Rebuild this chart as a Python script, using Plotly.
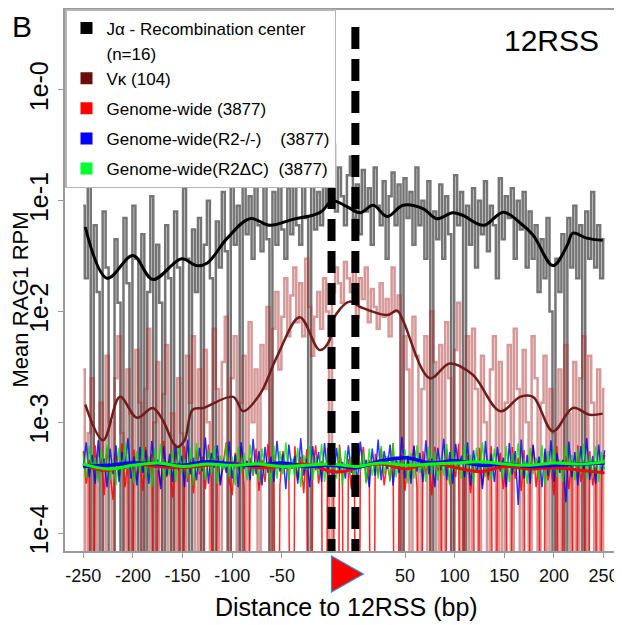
import plotly.graph_objects as go

# ---------------- data ----------------
RSS_GAP = 24          # width of the 12RSS block on the aligned axis (bp units of the plot)
ZERO_FLOOR = 1e-9     # zero coverage drawn down to the floor of the log axis

# aligned window positions for the raw per-bp traces (sampled every 3 bp)
positions = list(range(-250, 276, 3))

# J-alpha recombination-center raw mean RPM (x1e-3), 0 = no reads
ja_raw = [
    90, 20, 160, 0, 60, 15, 0, 80, 25, 0,
    0, 45, 12, 0, 70, 18, 0, 90, 30, 0,
    50, 0, 15, 110, 0, 40, 12, 0, 60, 20,
    0, 80, 25, 0, 130, 30, 0, 55, 15, 70,
    0, 40, 100, 20, 0, 65, 25, 120, 35, 0,
    150, 40, 90, 0, 180, 50, 110, 30, 200, 60,
    35, 140, 45, 0, 120, 40, 170, 55, 30, 130,
    50, 210, 60, 40, 150, 70, 0, 180, 55, 120,
    60, 220, 90, 150, 320, 80, 200, 110, 60, 170,
    250, 70, 140, 50, 190, 80, 130, 40, 200, 90,
    60, 150, 30, 110, 180, 60, 140, 0, 160, 70,
    120, 40, 200, 60, 100, 30, 150, 0, 80, 45,
    140, 30, 110, 50, 0, 170, 60, 120, 0, 90,
    40, 130, 25, 100, 50, 150, 35, 90, 60, 20,
    160, 45, 110, 70, 130, 30, 100, 55, 120, 25,
    80, 30, 60, 15, 45, 20, 70, 10, 0, 30,
    15, 50, 0, 70, 25, 90, 20, 60, 0, 80,
    30, 120, 25, 60, 20, 45,
]

# V-kappa raw mean RPM (x1e-4)
vk_raw = [
    30, 0, 8, 25, 0, 5, 15, 0, 40, 10,
    0, 25, 60, 8, 0, 30, 12, 0, 45, 15,
    0, 20, 70, 0, 10, 35, 0, 18, 50, 0,
    12, 0, 25, 8, 0, 40, 15, 60, 0, 30,
    0, 45, 10, 0, 70, 20, 0, 35, 90, 0,
    25, 60, 0, 15, 40, 0, 80, 10, 30, 0,
    50, 20, 110, 0, 70, 150, 30, 90, 200, 60,
    140, 250, 80, 180, 60, 300, 110, 40, 90, 150,
    70, 200, 100, 0, 150, 250, 180, 120, 280, 200,
    150, 300, 90, 200, 130, 250, 80, 160, 110, 70,
    180, 90, 130, 60, 250, 100, 140, 0, 60, 30,
    0, 90, 40, 0, 20, 60, 0, 100, 35, 0,
    50, 0, 80, 25, 0, 45, 120, 0, 30, 60,
    0, 70, 20, 0, 40, 10, 0, 30, 60, 0,
    35, 0, 15, 50, 0, 70, 20, 0, 45, 10,
    0, 60, 25, 0, 15, 40, 0, 20, 8, 0,
    30, 0, 50, 12, 0, 35, 0, 25, 60, 0,
    40, 15, 0, 30, 0, 20,
]

# genome-wide raw traces (x1e-4)
gw_raw = [
    5.5, 2.8, 4.6, 0, 6.2, 3.1, 4.8, 2.2, 5.9, 3.5,
    2.0, 5.1, 3.3, 6.5, 2.6, 4.4, 0, 5.7, 3.0, 4.9,
    2.4, 6.0, 3.6, 5.2, 0, 4.1, 2.7, 6.8, 3.2, 4.5,
    2.1, 5.4, 3.9, 0, 6.1, 2.9, 4.7, 2.3, 5.6, 3.4,
    4.9, 2.5, 6.3, 3.1, 0, 5.0, 2.8, 4.3, 6.6, 3.0,
    2.2, 5.3, 3.7, 6.0, 2.6, 0, 4.8, 3.3, 5.8, 2.4,
    4.6, 2.9, 6.4, 3.5, 5.1, 0, 2.7, 5.5, 3.8, 4.4,
    0, 6.1, 3.0, 4.9, 2.3, 5.7, 0, 3.6, 6.2, 2.8,
    4.5, 0, 5.9, 2.6, 4.0, 0, 6.3, 3.2, 0, 4.7,
    2.5, 5.4, 0, 3.7, 6.0, 2.9, 4.6, 0, 5.2, 3.3,
    5.8, 2.7, 4.4, 3.0, 6.5, 0, 3.9, 5.1, 2.4, 4.8,
    3.1, 6.2, 2.6, 0, 5.5, 3.4, 4.7, 2.2, 6.0, 3.6,
    4.3, 0, 5.7, 2.8, 4.9, 3.2, 6.4, 0, 3.5, 5.0,
    2.3, 4.6, 0, 5.9, 2.7, 4.1, 3.0, 6.1, 0, 3.8,
    5.3, 2.5, 4.4, 0, 6.0, 3.1, 4.8, 2.4, 5.6, 0,
    3.6, 6.3, 2.6, 4.5, 0, 5.4, 3.0, 4.2, 2.2, 6.1,
    0, 3.7, 5.0, 2.5, 4.6, 0, 6.2, 2.9, 4.3, 0,
    5.5, 2.7, 4.0, 0, 3.3, 5.1,
]
gw_r2ko_raw = [
    4.0, 6.6, 3.2, 5.1, 2.8, 6.9, 3.6, 4.7, 2.6, 5.8,
    3.4, 6.2, 2.9, 5.4, 3.8, 7.2, 3.1, 4.9, 2.7, 6.0,
    3.5, 5.6, 2.8, 6.8, 3.9, 4.6, 2.5, 6.1, 3.3, 5.2,
    2.9, 6.4, 3.7, 5.0, 2.6, 7.0, 3.4, 4.8, 3.0, 5.9,
    3.6, 7.3, 2.8, 5.3, 3.9, 6.2, 2.7, 4.6, 3.5, 6.7,
    3.1, 5.1, 2.6, 6.6, 3.8, 4.5, 3.0, 7.1, 3.4, 5.5,
    2.7, 6.0, 3.5, 4.9, 2.9, 6.8, 3.6, 5.2, 2.5, 6.3,
    3.8, 5.0, 2.8, 7.2, 3.3, 4.7, 2.6, 6.1, 3.7, 5.4,
    2.9, 6.5, 3.4, 4.8, 2.7, 5.9, 3.6, 4.4, 3.1, 6.2,
    3.5, 5.2, 2.8, 6.7, 3.9, 4.6, 2.6, 5.8, 3.3, 7.0,
    3.0, 5.5, 3.8, 6.3, 2.7, 4.9, 3.5, 7.4, 3.1, 5.0,
    2.8, 6.1, 3.6, 5.3, 2.9, 6.9, 3.4, 4.7, 2.6, 5.9,
    3.7, 7.1, 3.0, 5.4, 2.8, 6.4, 3.9, 5.0, 3.2, 6.6,
    2.7, 5.6, 3.5, 4.6, 2.5, 6.8, 3.3, 5.2, 2.9, 6.0,
    3.6, 4.8, 2.6, 6.5, 3.4, 5.5, 1.8, 7.0, 3.1, 5.1,
    2.8, 6.2, 3.7, 4.9, 2.6, 5.8, 3.3, 6.9, 2.9, 5.3,
    3.5, 4.6, 1.9, 6.7, 3.2, 5.4, 2.7, 6.1, 3.6, 7.2,
    3.0, 5.0, 2.8, 6.3, 3.4, 5.6,
]
gw_r2dc_raw = [
    5.2, 3.1, 6.1, 3.6, 4.8, 2.9, 5.7, 3.4, 6.3, 3.0,
    4.6, 2.7, 5.9, 3.3, 6.6, 3.8, 4.4, 2.8, 5.5, 3.5,
    6.0, 3.2, 4.9, 2.6, 5.8, 3.7, 6.4, 3.0, 4.5, 3.3,
    5.6, 2.9, 6.2, 3.5, 4.7, 3.1, 5.9, 2.7, 6.5, 3.6,
    4.3, 3.0, 5.7, 3.4, 6.1, 2.8, 5.0, 3.7, 6.4, 3.2,
    4.9, 2.7, 6.0, 3.5, 5.3, 3.0, 6.3, 3.3, 4.6, 2.9,
    5.8, 3.6, 4.4, 2.8, 6.2, 3.1, 5.5, 3.4, 6.6, 3.0,
    4.7, 3.2, 5.9, 2.6, 5.1, 3.7, 6.1, 3.0, 4.8, 3.3,
    6.4, 2.9, 5.2, 3.5, 4.5, 3.1, 6.0, 2.7, 5.6, 3.4,
    4.9, 3.0, 6.3, 3.6, 5.4, 2.8, 5.8, 3.3, 4.6, 3.1,
    6.1, 3.4, 5.0, 2.9, 6.5, 3.2, 4.7, 3.6, 5.7, 2.8,
    5.3, 3.1, 6.2, 3.5, 4.4, 2.9, 6.0, 3.4, 5.5, 3.0,
    4.8, 3.3, 6.4, 2.7, 5.6, 3.6, 4.5, 3.1, 6.3, 3.4,
    5.1, 2.8, 5.9, 3.5, 6.6, 3.2, 4.6, 3.0, 5.8, 3.7,
    4.4, 3.1, 6.1, 2.9, 5.3, 3.6, 6.5, 3.3, 4.7, 2.8,
    5.9, 3.4, 4.8, 3.0, 6.2, 2.7, 5.5, 3.5, 6.0, 3.2,
    4.6, 2.9, 6.3, 3.6, 5.1, 3.0, 5.8, 3.4, 6.4, 3.1,
    5.0, 3.3, 6.1, 2.9, 5.4, 3.7,
]

# smoothed profiles
ja_smooth_pos = [-248, -226, -200, -180, -151, -136, -125, -105, -82, -62, -39, -19, -10, 1, 15, 29,
                 42, 56, 72, 92, 106, 122, 132, 153, 173, 190, 203, 223, 237, 243, 257, 273]
ja_smooth = [0.058, 0.020, 0.032, 0.0195, 0.030, 0.026, 0.0275, 0.046, 0.069, 0.060, 0.068, 0.074,
             0.080, 0.100, 0.089, 0.078, 0.091, 0.072, 0.091, 0.085, 0.069, 0.078, 0.074, 0.060,
             0.079, 0.063, 0.049, 0.026, 0.039, 0.051, 0.046, 0.044]

vk_smooth_pos = [-248, -230, -213, -196, -180, -170, -156, -148, -140, -129, -99, -89, -72, -55, -32,
                 -12, -2, 1, 18, 29, 56, 66, 72, 99, 119, 142, 170, 190, 203, 223, 243, 260, 273]
vk_smooth = [0.00145, 0.00069, 0.0017, 0.0011, 0.00135, 0.00105, 0.0006, 0.00069, 0.0013, 0.00135,
             0.0017, 0.00126, 0.0018, 0.0039, 0.0089, 0.0045, 0.0055, 0.0083, 0.0123, 0.011,
             0.0093, 0.0102, 0.0083, 0.0025, 0.0034, 0.0027, 0.00126, 0.0017, 0.0017, 0.00083,
             0.00135, 0.00117, 0.0012]

gw_smooth_pos = [-250, -225, -200, -175, -150, -125, -100, -75, -50, -25, 0, 12, 25, 50, 75, 100,
                 125, 150, 175, 200, 225, 250, 275]
gw_smooth = [4.1, 3.7, 4.2, 4.0, 3.9, 4.1, 4.3, 3.9, 4.0, 4.2, 3.6, 3.6, 3.9, 4.2, 3.8, 4.3, 3.9,
             3.6, 4.0, 3.8, 3.9, 3.7, 3.5]
gw_r2ko_smooth = [4.0, 4.1, 4.3, 4.2, 4.1, 4.4, 4.2, 4.1, 4.3, 4.0, 4.1, 4.0, 3.9, 4.5, 4.8, 4.3,
                  4.5, 4.1, 4.2, 4.0, 4.1, 4.2, 4.3]
gw_r2dc_smooth = [4.2, 3.8, 4.1, 4.3, 4.0, 4.2, 4.1, 4.2, 4.0, 4.1, 4.2, 4.1, 4.0, 4.3, 4.1, 4.2,
                  4.3, 4.4, 4.2, 4.1, 4.3, 4.2, 4.4]

upstream_ticks = [-250, -200, -150, -100, -50]
downstream_ticks = [50, 100, 150, 200, 250]
y_tick_vals = [1, 0.1, 0.01, 0.001, 0.0001]
y_tick_text = ["1e-0", "1e-1", "1e-2", "1e-3", "1e-4"]

# legend rows: (label, swatch colour or None, legend block)
legend_rows = [
    ("J\u03b1 - Recombination center", "#000000", 0),
    ("(n=16)", None, 0),
    ("V\u03ba\u00a0(104)", "#6b0d0d", 0),
    ("Genome-wide\u00a0(3877)", "#ff0000", 1),
    ("Genome-wide(R2-/-)\u00a0\u00a0\u00a0\u00a0(3877)", "#0000ff", 2),
    ("Genome-wide(R2\u0394C)\u00a0\u00a0(3877)", "#00ff33", 3),
]


# ---------------- figure ----------------
def scaled(vals, unit):
    return [v * unit if v > 0 else ZERO_FLOOR for v in vals]


FONT = "Arial, Liberation Sans, sans-serif"
PAGE_OFF = 8                      # the page body margin shifts the figure by 8 px
W, H = 622 - PAGE_OFF, 625 - PAGE_OFF
ML, MR, MT, MB = 57, 2, 2, 74     # plot area: screen x 65..620, y 10..551
PW, PH = W - ML - MR, H - MT - MB


def px(xs):   # screen x -> paper
    return (xs - PAGE_OFF - ML) / PW


def py(ys):   # screen y -> paper
    return (H - MB - (ys - PAGE_OFF)) / PH


fig = go.Figure()

raw_specs = [
    (scaled(ja_raw, 1e-3), "rgba(25,25,25,0.6)", 2.5, "hvh"),
    (scaled(vk_raw, 1e-4), "rgba(175,50,50,0.5)", 2.5, "hvh"),
    (scaled(gw_raw, 1e-4), "rgba(255,0,0,0.85)", 1.5, "linear"),
    (scaled(gw_r2ko_raw, 1e-4), "rgba(0,0,255,0.8)", 1.5, "linear"),
    (scaled(gw_r2dc_raw, 1e-4), "rgba(0,225,0,0.8)", 1.5, "linear"),
]
for ys, col, w, shp in raw_specs:
    fig.add_trace(go.Scatter(x=positions, y=ys, mode="lines", line=dict(color=col, width=w, shape=shp),
                             showlegend=False, hoverinfo="skip"))

smooth_specs = [
    (ja_smooth_pos, ja_smooth, "#000000", 3),
    (vk_smooth_pos, vk_smooth, "#6e1c1c", 2.5),
    (gw_smooth_pos, [v * 1e-4 for v in gw_smooth], "#ff0000", 3),
    (gw_smooth_pos, [v * 1e-4 for v in gw_r2ko_smooth], "#0000ff", 3.5),
    (gw_smooth_pos, [v * 1e-4 for v in gw_r2dc_smooth], "#00ff00", 3),
]
for xs, ys, col, w in smooth_specs:
    fig.add_trace(go.Scatter(x=xs, y=ys, mode="lines",
                             line=dict(color=col, width=w, shape="spline", smoothing=1.0),
                             showlegend=False, hoverinfo="skip"))

for lab, col, grp in legend_rows:
    fig.add_trace(go.Scatter(x=[None], y=[None], mode="markers", name=lab,
                             legendgroup=f"g{grp}",
                             marker=dict(symbol="square", size=15,
                                         color=col if col else "rgba(0,0,0,0)",
                                         line=dict(width=0))))

tickvals = upstream_ticks + [t + RSS_GAP for t in downstream_ticks]
ticktext = [str(t) for t in upstream_ticks] + [str(t) for t in downstream_ticks]

shapes = []
# RSS borders (thick dashed lines)
for xv in [0, RSS_GAP]:
    shapes.append(dict(type="line", xref="x", yref="paper", x0=xv, x1=xv, y0=py(27), y1=0,
                       line=dict(color="black", width=8, dash="22px,10px")))
# red triangle marking the RSS orientation
shapes.append(dict(type="path", xref="x", yref="paper",
                   path=f"M 0 {py(556)} L 0 {py(592)} L {RSS_GAP + 8} {py(574)} Z",
                   fillcolor="#ff0000", line=dict(color="#2b8fd6", width=1.2)))

ann_common = dict(xref="paper", yref="paper", showarrow=False, xanchor="center", yanchor="middle")
annotations = [
    dict(text="B", x=px(22), y=py(27), font=dict(size=30, color="black", family=FONT), **ann_common),
    dict(text="12RSS", x=px(551), y=py(41), font=dict(size=30, color="black", family=FONT),
         **ann_common),
    dict(text="Mean RAG1 RPM", x=px(19.5), y=py(300), textangle=-90,
         font=dict(size=22, color="black", family=FONT), **ann_common),
    dict(text="Distance to 12RSS (bp)", x=px(346), y=py(607),
         font=dict(size=25, color="black", family=FONT), **ann_common),
]

fig.update_layout(
    width=W, height=H,
    margin=dict(l=ML, r=MR, t=MT, b=MB, autoexpand=False),
    paper_bgcolor="white", plot_bgcolor="white",
    font=dict(family=FONT, color="black"),
    shapes=shapes, annotations=annotations,
    showlegend=True,
    legend=dict(x=0, y=py(9), xanchor="left", yanchor="top", bgcolor="white",
                bordercolor="#b5b5b5", borderwidth=1.5, font=dict(size=17, family=FONT),
                tracegroupgap=5, itemsizing="constant", traceorder="grouped"),
    xaxis=dict(range=[-268.4, 290.5], tickvals=tickvals, ticktext=ticktext, automargin=False,
               showgrid=False, zeroline=False, showline=True, linecolor="#9a9a9a", linewidth=1.5,
               mirror=True, ticks="outside", ticklen=5, tickcolor="#9a9a9a",
               tickfont=dict(size=18, color="#111"), ticklabelstandoff=3),
    yaxis=dict(type="log", range=[-4.161, 0.722], tickvals=y_tick_vals, ticktext=y_tick_text,
               automargin=False,
               showgrid=False, zeroline=False, showline=True, linecolor="#9a9a9a", linewidth=1.5,
               ticks="outside", ticklen=5, tickcolor="#9a9a9a", tickangle=-90,
               tickfont=dict(size=25, color="black")),
)

fig.write_html("out.html")
